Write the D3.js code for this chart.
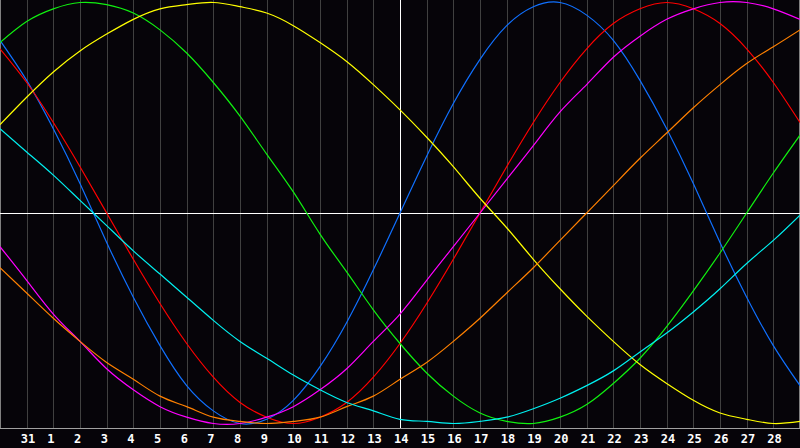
<!DOCTYPE html>
<meta charset="utf-8">
<style>
  body { margin: 0; background: #060409; }
  svg { display: block; }
  .grid line { stroke: #404040; stroke-width: 1; shape-rendering: crispEdges; }
  .cycle { fill: none; stroke-width: 1.2; }
  .label { fill: #fff; font-family: "DejaVu Sans Mono", monospace; font-weight: bold; font-size: 12px; }
</style>
<body>
<script src="https://cdnjs.cloudflare.com/ajax/libs/d3/7.8.5/d3.min.js"></script>
<script>
// day labels (index 0 = Jan 30 at left edge, index 30 = Mar 1 at right edge)
var days = ["30", "31", "1", "2", "3", "4", "5", "6", "7", "8", "9", "10", "11", "12", "13", "14",
            "15", "16", "17", "18", "19", "20", "21", "22", "23", "24", "25", "26", "27", "28", "1"];
var today = 15;

// cycle values in percent, one per day
var physical     = [82, 63, 40, 14, -14, -40, -63, -82, -94, -100, -98, -89, -73, -52, -27, 0,
                    27, 52, 73, 89, 98, 100, 94, 82, 63, 40, 14, -14, -40, -63, -82];
var emotional    = [78, 62, 43, 22, 0, -22, -43, -62, -78, -90, -97, -100, -97, -90, -78, -62,
                    -43, -22, 0, 22, 43, 62, 78, 90, 97, 100, 97, 90, 78, 62, 43];
var intellectual = [81, 91, 97, 100, 99, 95, 87, 76, 62, 46, 28, 10, -10, -28, -46, -62,
                    -76, -87, -95, -99, -100, -97, -91, -81, -69, -54, -37, -19, 0, 19, 37];
var intuitive    = [-16, -32, -48, -61, -74, -84, -92, -97, -100, -100, -97, -92, -84, -74, -61, -48,
                    -32, -16, 0, 16, 32, 48, 61, 74, 84, 92, 97, 100, 100, 97, 92];
var aesthetic    = [42, 55, 67, 77, 85, 92, 97, 99, 100, 98, 95, 89, 81, 72, 61, 49,
                    36, 22, 7, -7, -22, -36, -49, -61, -72, -81, -89, -95, -98, -100, -99];
var awareness    = [-26, -38, -50, -61, -71, -79, -87, -92, -97, -99, -100, -99, -97, -92, -87, -79,
                    -71, -61, -50, -38, -26, -13, 0, 13, 26, 38, 50, 61, 71, 79, 87];
var spiritual    = [40, 29, 18, 6, -6, -18, -29, -40, -51, -61, -69, -77, -84, -90, -94, -98,
                    -99, -100, -99, -97, -93, -88, -82, -75, -66, -57, -47, -36, -24, -13, -1];

var cycles = [
  {name: "Physical", values: physical, color: "#1070ff"},
  {name: "Emotional", values: emotional, color: "#ff0000"},
  {name: "Intellectual", values: intellectual, color: "#10f010"},
  {name: "Intuitive", values: intuitive, color: "#ff00ff"},
  {name: "Aesthetic", values: aesthetic, color: "#ffff00"},
  {name: "Awareness", values: awareness, color: "#ff8000"},
  {name: "Spiritual", values: spiritual, color: "#00f0f0"}
];

var width = 800, height = 448, plotBottom = 428;

var x = d3.scaleLinear().domain([0, days.length - 1]).range([0, width]);
var y = d3.scaleLinear().domain([-100, 100]).range([423.5, 2.5]);

var svg = d3.select("body").append("svg")
    .attr("width", width)
    .attr("height", height);

svg.append("rect").attr("width", width).attr("height", height).attr("fill", "#060409");

// day grid
var inner = d3.range(1, days.length - 1);
svg.append("g").attr("class", "grid")
  .selectAll("line")
    .data(inner)
  .enter().append("line")
    .attr("x1", function(d) { return Math.round(x(d)) + 0.5; })
    .attr("x2", function(d) { return Math.round(x(d)) + 0.5; })
    .attr("y1", 0)
    .attr("y2", plotBottom);

// frame
svg.append("line").attr("x1", 0.5).attr("x2", 0.5).attr("y1", 0).attr("y2", plotBottom)
    .attr("stroke", "#808080").style("shape-rendering", "crispEdges");
svg.append("line").attr("x1", width - 0.5).attr("x2", width - 0.5).attr("y1", 0).attr("y2", plotBottom)
    .attr("stroke", "#808080").style("shape-rendering", "crispEdges");
svg.append("line").attr("x1", 0).attr("x2", width).attr("y1", plotBottom + 0.5).attr("y2", plotBottom + 0.5)
    .attr("stroke", "#a0a0a0").style("shape-rendering", "crispEdges");

// zero line and today marker
svg.append("line").attr("x1", 0).attr("x2", width)
    .attr("y1", Math.round(y(0)) + 0.5).attr("y2", Math.round(y(0)) + 0.5)
    .attr("stroke", "#fff").style("shape-rendering", "crispEdges");
svg.append("line").attr("x1", Math.round(x(today)) + 0.5).attr("x2", Math.round(x(today)) + 0.5)
    .attr("y1", 0).attr("y2", plotBottom)
    .attr("stroke", "#fff").style("shape-rendering", "crispEdges");

var line = d3.line()
    .x(function(d, i) { return x(i); })
    .y(function(d) { return y(d); })
    .curve(d3.curveNatural);

svg.append("g")
  .selectAll("path")
    .data(cycles)
  .enter().append("path")
    .attr("class", "cycle")
    .attr("d", function(d) { return line(d.values); })
    .attr("stroke", function(d) { return d.color; });

// day labels
svg.append("g")
  .selectAll("text")
    .data(inner)
  .enter().append("text")
    .attr("class", "label")
    .attr("x", function(d) { return x(d) - 6; })
    .attr("y", 443)
    .text(function(d) { return days[d]; });
</script>
</body>
</html>
